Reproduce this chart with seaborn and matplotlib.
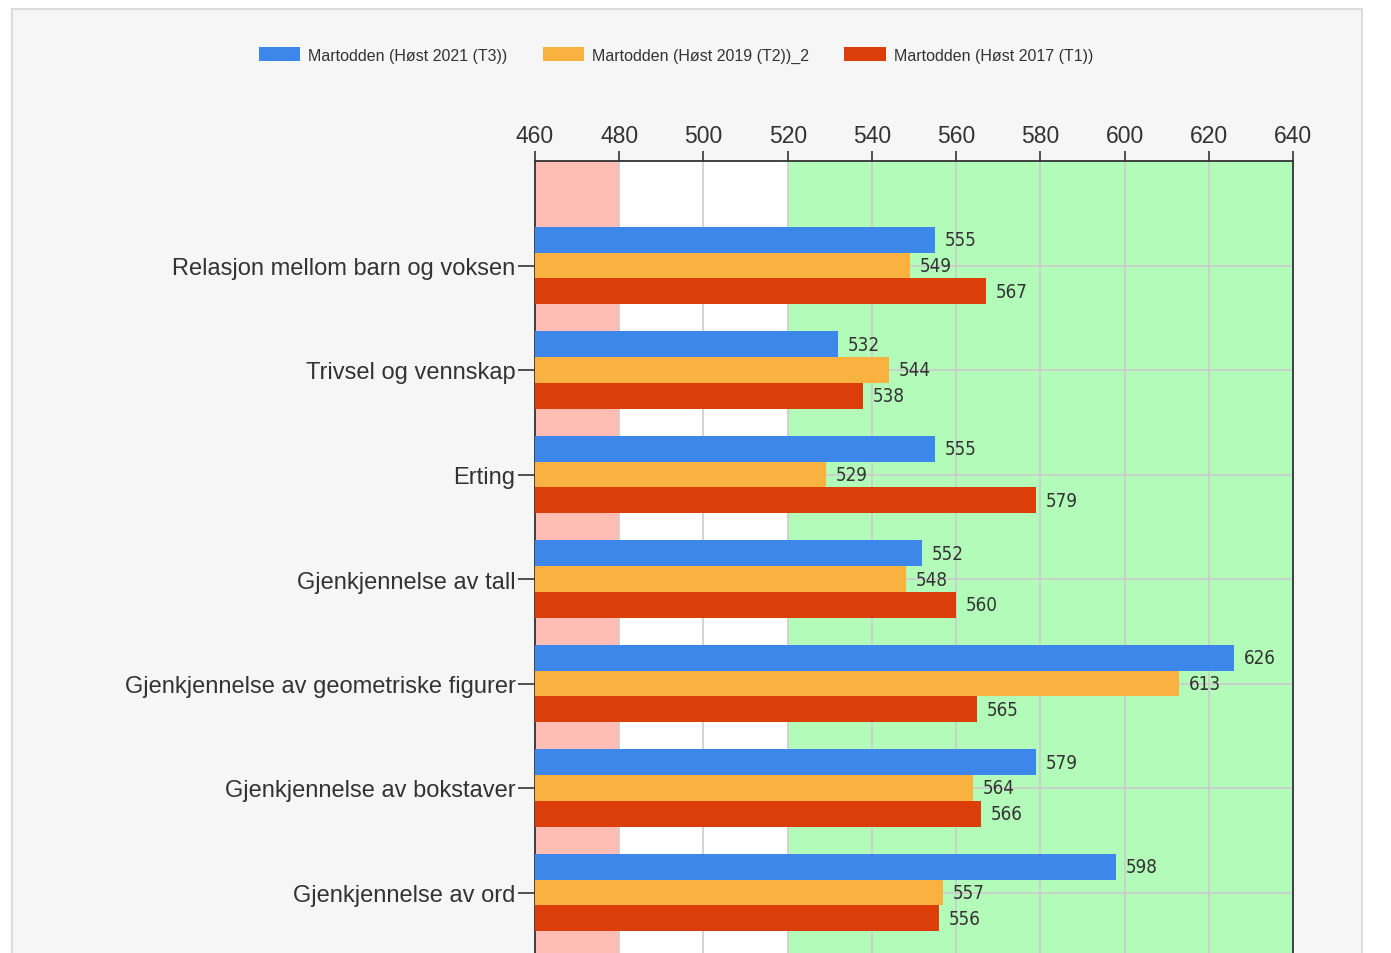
import matplotlib

matplotlib.use('Agg')

import pandas as pd
import seaborn as sns
from matplotlib import pyplot as plt
from matplotlib.patches import Rectangle

# data
categories = [
    "Relasjon mellom barn og voksen",
    "Trivsel og vennskap",
    "Erting",
    "Gjenkjennelse av tall",
    "Gjenkjennelse av geometriske figurer",
    "Gjenkjennelse av bokstaver",
    "Gjenkjennelse av ord",
]
series = [
    "Martodden (Høst 2021 (T3))",
    "Martodden (Høst 2019 (T2))_2",
    "Martodden (Høst 2017 (T1))",
]
t3_2021 = [555, 532, 555, 552, 626, 579, 598]
t2_2019 = [549, 544, 529, 548, 613, 564, 557]
t1_2017 = [567, 538, 579, 560, 565, 566, 556]
colors = ["#3d86ea", "#f9b13f", "#dc3e0a"]

x_ticks = list(range(460, 641, 20))

df = pd.DataFrame({
    "kategori": categories * 3,
    "serie": [series[0]] * 7 + [series[1]] * 7 + [series[2]] * 7,
    "verdi": t3_2021 + t2_2019 + t1_2017,
})

sns.set_style("white")
plt.rcParams['font.family'] = ['Liberation Sans', 'DejaVu Sans']

fig = plt.figure(figsize=(13.91, 9.54), dpi=100)
fig.patch.set_facecolor("white")
fig.patches.append(Rectangle((12 / 1391, -0.1), 1350 / 1391, 1.1 - 10 / 954,
                             transform=fig.transFigure, facecolor="#f6f6f6",
                             edgecolor="#dcdcdc", linewidth=1.5, zorder=-10))

ax = fig.add_axes([535 / 1391, -44 / 954, 758 / 1391, 1 - 162 / 954 + 44 / 954])
ax.set_facecolor("white")

# background bands
ax.axvspan(460, 480, color="#ffbdb3", zorder=0, lw=0)
ax.axvspan(520, 640, color="#b3fbb9", zorder=0, lw=0)

sns.barplot(data=df, y="kategori", x="verdi", hue="serie", orient="h",
            palette=colors, width=0.74, saturation=1, ax=ax, zorder=3,
            linewidth=0, legend=True)

for cont in ax.containers:
    ax.bar_label(cont, padding=7, fontsize=13.5, color="#333333",
                 family=['DejaVu Sans'], fontstretch='condensed')

ax.set_xlim(460, 640)
ax.set_ylim(7, -1)
ax.set_xticks(x_ticks)
ax.xaxis.tick_top()
ax.grid(True, axis="both", color="#cccccc", linewidth=1.2, zorder=1)
ax.set_axisbelow(True)
ax.set_xlabel("")
ax.set_ylabel("")

ax.tick_params(axis="x", top=True, bottom=False, labeltop=True, labelbottom=False,
               direction="out", length=7, width=1.2, color="#333333",
               labelsize=16.5, labelcolor="#333333", pad=3)
ax.tick_params(axis="y", left=True, direction="out", length=12, width=1.2,
               color="#333333", labelsize=17, labelcolor="#333333", pad=2)

for side in ["top", "left", "right"]:
    ax.spines[side].set_visible(True)
    ax.spines[side].set_color("#333333")
    ax.spines[side].set_linewidth(1.3)
ax.spines["bottom"].set_visible(False)

handles, labels = ax.get_legend_handles_labels()
ax.get_legend().remove()
fig.legend(handles, labels, loc="center", bbox_to_anchor=(676 / 1391, 1 - 56 / 954),
           ncol=3, frameon=False, fontsize=11.5, handlelength=2.6, handleheight=1.0,
           columnspacing=2.2, handletextpad=0.5, labelcolor="#333333")

fig.savefig("out.png", dpi=100, facecolor=fig.get_facecolor())
